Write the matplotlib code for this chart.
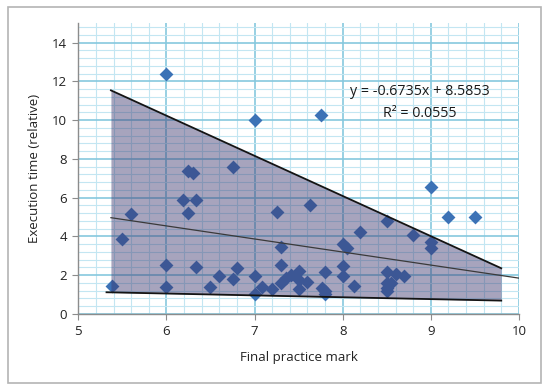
import matplotlib.pyplot as plt
from matplotlib.patches import Rectangle
from matplotlib.ticker import MultipleLocator

plt.rcParams["font.family"] = ["Open Sans", "DejaVu Sans"]

# practice mark vs. relative execution time
marks = [5.38, 5.50, 5.60, 6.00, 6.00, 6.00, 6.19, 6.25, 6.30, 6.25, 6.33, 6.33,
         6.50, 6.60, 6.75, 6.75, 6.80, 7.00, 7.00, 7.00, 7.09, 7.20, 7.25, 7.30,
         7.30, 7.30, 7.36, 7.41, 7.51, 7.50, 7.50, 7.60, 7.63, 7.75, 7.80, 7.76,
         7.80, 7.80, 8.00, 8.05, 8.00, 8.00, 8.13, 8.20, 8.50, 8.50, 8.60, 8.70,
         8.50, 8.55, 8.50, 8.50, 8.80, 9.00, 9.00, 9.00, 9.20, 9.50]
times = [1.42, 3.88, 5.15, 12.40, 2.51, 1.38, 5.88, 7.39, 7.25, 5.22, 5.88, 2.44,
         1.38, 1.98, 7.60, 1.82, 2.38, 10.00, 1.98, 1.02, 1.40, 1.30, 5.27, 3.46,
         2.53, 1.62, 1.87, 2.01, 2.22, 1.75, 1.28, 1.67, 5.62, 10.27, 2.18, 1.32,
         1.20, 1.02, 3.63, 3.39, 2.45, 1.95, 1.45, 4.22, 4.78, 2.16, 2.05, 1.96,
         1.60, 1.62, 1.35, 1.18, 4.09, 6.57, 3.72, 3.40, 5.02, 4.98]

# linear trend (as printed on the chart)
slope = -0.6735
intercept = 8.5853
r2 = 0.0555
trend_x = [5.37, 10.0]

# envelope lines
band_x = [5.37, 9.8]
upper_y = [11.54, 2.36]
lower_x = [5.32, 9.8]
lower_y = [1.12, 0.69]

fig = plt.figure(figsize=(5.5, 3.91), dpi=100)
fig.patches.append(Rectangle((8 / 550, 1 - 383 / 391), 533 / 550, 376 / 391,
                             transform=fig.transFigure, fill=False,
                             edgecolor="#b4b4b4", linewidth=1.2))
ax = fig.add_axes([0.1424, 0.197, 0.801, 0.7434])

ax.set_xlim(5, 10)
ax.set_ylim(0, 15)
ax.xaxis.set_major_locator(MultipleLocator(1))
ax.xaxis.set_minor_locator(MultipleLocator(0.2))
ax.set_yticks(range(0, 15, 2))
ax.yaxis.set_minor_locator(MultipleLocator(0.4))
ax.grid(which="minor", color="#c3e6f2", linewidth=0.8)
ax.grid(which="major", color="#86c8de", linewidth=1.2)
ax.set_axisbelow(True)

for side in ("top", "right"):
    ax.spines[side].set_visible(False)
for side in ("left", "bottom"):
    ax.spines[side].set_color("#8c8c8c")
    ax.spines[side].set_linewidth(1.0)
ax.tick_params(which="major", length=4, color="#8c8c8c", labelsize=9.5,
               labelcolor="#222222", pad=4)
ax.tick_params(which="minor", length=0)

ax.scatter(marks, times, marker="D", s=50, color="#3c72b6", linewidths=0,
           zorder=2)

lo_band = [lower_y[0] + (lower_y[1] - lower_y[0]) * (band_x[0] - lower_x[0])
           / (lower_x[1] - lower_x[0]), lower_y[1]]
ax.fill_between(band_x, lo_band, upper_y, color=(60 / 255, 55 / 255, 110 / 255),
                alpha=0.45, linewidth=0, zorder=3)
ax.plot(band_x, upper_y, color="#141414", linewidth=1.3, zorder=4)
ax.plot(lower_x, lower_y, color="#141414", linewidth=1.3, zorder=4)
ax.plot(trend_x, [slope * x + intercept for x in trend_x], color="#3a3a3a",
        linewidth=0.9, zorder=4)

ax.text(8.88, 11.47, f"y = {slope}x + {intercept}", ha="center", va="center",
        fontsize=10.3, color="#1a1a1a")
ax.text(8.88, 10.37, f"R\u00b2 = {r2}", ha="center", va="center", fontsize=10.3,
        color="#1a1a1a")

ax.set_xlabel("Final practice mark", fontsize=9.5, color="#222222", labelpad=9)
ax.set_ylabel("Execution time (relative)", fontsize=9.5, color="#222222",
              labelpad=8)

fig.savefig("out.png", dpi=100)
